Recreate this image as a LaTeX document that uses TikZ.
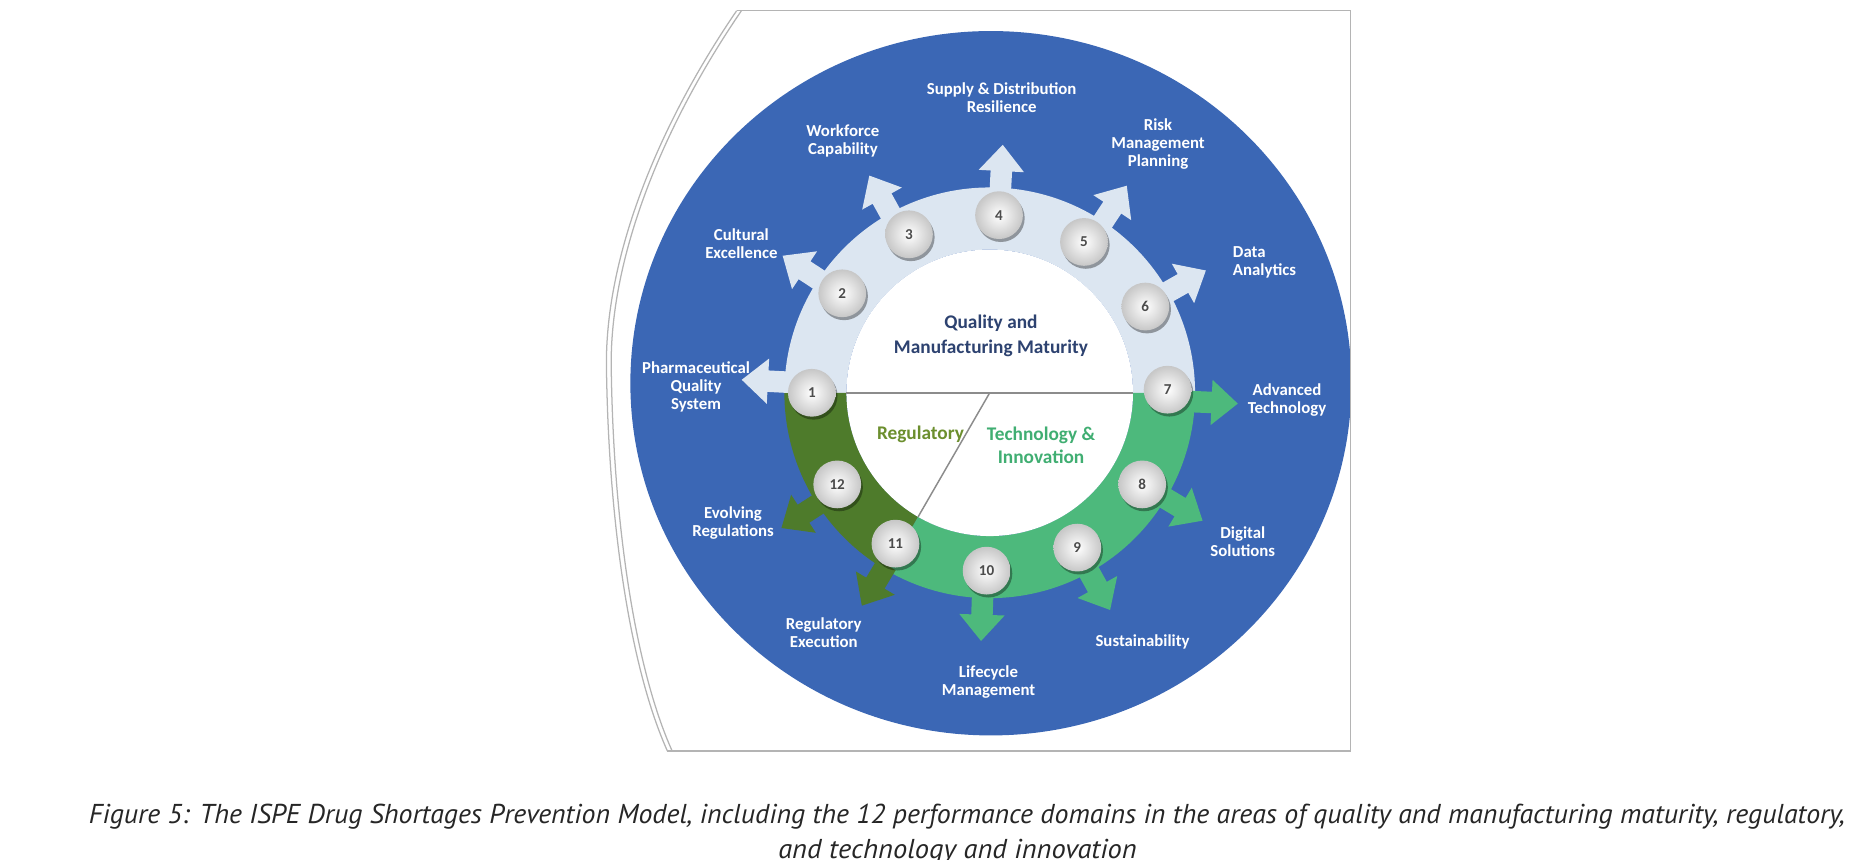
\documentclass[tikz,border=0pt]{standalone}
\usepackage{graphicx}
\usepackage{fontspec}
\setmainfont{Carlito}
\newfontfamily\captionfont{PT Sans}
\usetikzlibrary{calc}

\definecolor{BlueDisc}{HTML}{3B67B5}
\definecolor{Band}{HTML}{DCE6F1}
\definecolor{RegGreen}{HTML}{4E7B2B}
\definecolor{TechGreen}{HTML}{4DB97C}
\definecolor{Navy}{HTML}{2D4270}
\definecolor{RegText}{HTML}{6C8F2E}
\definecolor{TechText}{HTML}{40AE72}
\definecolor{Frame}{HTML}{B4B4B4}

\tikzset{
  domaintext/.style={text=white, font=\bfseries\fontsize{4}{4.3}\selectfont, align=center, inner sep=0pt},
  numtext/.style={text=black!70, font=\bfseries\fontsize{3.6}{4}\selectfont, inner sep=0pt},
  areatext/.style={font=\bfseries\fontsize{4.6}{6}\selectfont, align=center, inner sep=0pt},
  captext/.style={font=\captionfont\itshape\fontsize{6.5}{8}\selectfont, text=black!85, inner sep=0pt}
}

\begin{document}
\begin{tikzpicture}[x=0.01cm, y=0.01cm]
  \useasboundingbox (0,0) rectangle (1568,720);

  %%%%%%%%%% Points pour travailler %%%%%%%%%%
  \coordinate (C) at (829,391);
  \coordinate (B) at (830,399);

  %%%%%%%%%% Blue disc %%%%%%%%%%
  \begin{scope}
    \clip (0,0) rectangle (1131,720);
    \fill[BlueDisc] (B) ellipse [x radius=302, y radius=295];
  \end{scope}

  %%%%%%%%%% Frame %%%%%%%%%%
  \draw[Frame, line width=0.35pt] (617,711) -- (1131,711) -- (1131,91) -- (559,91);
  \draw[Frame, line width=0.3pt] (617,711) .. controls (548,610) and (506,500) .. (508,410) .. controls (510,280) and (528,160) .. (559,91);
  \draw[Frame, line width=0.3pt] (621,711) .. controls (552,610) and (510,500) .. (512,410) .. controls (514,280) and (532,160) .. (563,91);

  \begin{scope}[shift={(C)}]
    %%%%%%%%%% Ring %%%%%%%%%%
    \fill[Band] (0:172) arc[start angle=0, end angle=180, radius=172] -- (180:120) arc[start angle=180, end angle=0, radius=120] -- cycle;
    \fill[RegGreen] (180:172) arc[start angle=180, end angle=240, radius=172] -- (240:120) arc[start angle=240, end angle=180, radius=120] -- cycle;
    \fill[TechGreen] (240:172) arc[start angle=240, end angle=360, radius=172] -- (360:120) arc[start angle=360, end angle=240, radius=120] -- cycle;

    %%%%%%%%%% Arrows %%%%%%%%%%
    \foreach \a/\c in {177/Band, 146.5/Band, 119/Band, 87/Band, 56.5/Band, 29.5/Band,
                       -2.5/TechGreen, -31/TechGreen, -61/TechGreen, -92/TechGreen,
                       -121/RegGreen, -147/RegGreen}
    {
      \fill[\c, rotate=\a] (168,-9) -- (186,-9) -- (186,-19) -- (208,0) -- (186,19) -- (186,9) -- (168,9) -- cycle;
    }

    %%%%%%%%%% White disc %%%%%%%%%%
    \fill[white] (0,0) circle (120);
    \draw[black!45, line width=0.35pt] (180:120) -- (0:120);
    \draw[black!45, line width=0.35pt] (0,0) -- (240:120);

    %%%%%%%%%% Numbers %%%%%%%%%%
    \foreach \a/\n in {180/1, 146/2, 117/3, 87/4, 58/5, 29/6, 1/7,
                       -31/8, -60.5/9, -91/10, -122/11, -149/12}
    {
      \fill[black, opacity=0.35] (\a:149) ++(1.5,-2.5) circle (20);
      \shade[inner color=white, outer color=black!22] (\a:149) circle (20);
      \node[numtext] (n\n) at (\a:149) {\n};
    }
  \end{scope}

  %%%%%%%%%% Domains %%%%%%%%%%
  \node[domaintext] (pqs) at (583,396) {Pharmaceutical\\Quality\\System};
  \node[domaintext] (cult) at (621,516) {Cultural\\Excellence};
  \node[domaintext] (work) at (706,602) {Workforce\\Capability};
  \node[domaintext] (supply) at (839,638) {Supply \& Distribution\\Resilience};
  \node[domaintext] (risk) at (970,599) {Risk\\Management\\Planning};
  \node[domaintext, anchor=west, align=left] (data) at (1032,500) {Data\\Analytics};
  \node[domaintext] (adv) at (1078,385) {Advanced\\Technology};
  \node[domaintext] (digi) at (1041,266) {Digital\\Solutions};
  \node[domaintext] (sust) at (957,182) {Sustainability};
  \node[domaintext] (life) at (828,149) {Lifecycle\\Management};
  \node[domaintext] (rexe) at (690,190) {Regulatory\\Execution};
  \node[domaintext] (evol) at (614,282) {Evolving\\Regulations};

  %%%%%%%%%% Areas %%%%%%%%%%
  \node[areatext, text=Navy] (qmm) at (830,439) {Quality and\\Manufacturing Maturity};
  \node[areatext, text=RegText] (reg) at (771,356) {Regulatory};
  \node[areatext, text=TechText, font=\bfseries\fontsize{4.6}{5.7}\selectfont] (tech) at (872,347) {Technology \&\\Innovation};

  %%%%%%%%%% Caption %%%%%%%%%%
  \node[captext] (cap1) at (810,36) {\resizebox{14.7cm}{\height}{Figure 5: The ISPE Drug Shortages Prevention Model, including the 12 performance domains in the areas of quality and manufacturing maturity, regulatory,}};
  \node[captext] (cap2) at (802,7) {\resizebox{3.0cm}{\height}{and technology and innovation}};
\end{tikzpicture}
\end{document}
